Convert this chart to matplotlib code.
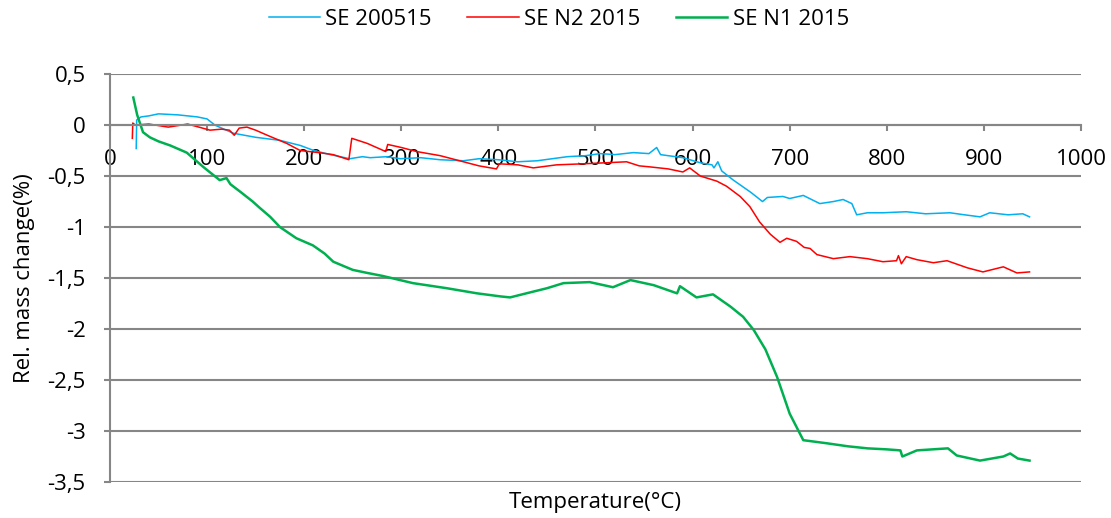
import matplotlib.pyplot as plt
from matplotlib.ticker import FuncFormatter

plt.rcParams['font.family'] = ['Open Sans', 'DejaVu Sans']

# SE 200515 (blue)
t_blue = [27, 27.5, 32, 40, 50, 70, 90, 100, 108, 115, 127, 150, 175, 196, 210, 227, 247,
          260, 268, 285, 299, 320, 340, 364, 380, 400, 420, 440, 471, 490, 505, 520, 539,
          555, 563, 567, 590, 608, 620, 622, 626, 630, 642, 660, 672, 677, 693, 700, 714,
          731, 745, 755, 764, 769, 780, 796, 820, 840, 865, 880, 896, 906, 925, 940, 947]
m_blue = [-0.23, 0.05, 0.08, 0.09, 0.11, 0.1, 0.08, 0.06, 0.0, -0.03, -0.08, -0.12, -0.15,
          -0.2, -0.25, -0.29, -0.33, -0.31, -0.32, -0.31, -0.33, -0.32, -0.34, -0.35, -0.33,
          -0.34, -0.36, -0.35, -0.31, -0.3, -0.28, -0.29, -0.27, -0.28, -0.22, -0.29, -0.32,
          -0.37, -0.39, -0.42, -0.36, -0.45, -0.54, -0.66, -0.75, -0.71, -0.70, -0.72, -0.69,
          -0.77, -0.75, -0.73, -0.77, -0.88, -0.86, -0.86, -0.85, -0.87, -0.86, -0.88, -0.90,
          -0.86, -0.88, -0.87, -0.90]

# SE N2 2015 (red)
t_red = [23, 23.5, 26, 40, 60, 80, 103, 115, 123, 128, 133, 141, 150, 162, 182, 196, 215,
         230, 246, 249, 265, 284, 286, 300, 316, 340, 364, 380, 398, 401, 420, 436, 460, 487,
         510, 532, 545, 556, 575, 590, 597, 608, 625, 635, 649, 659, 669, 680, 690, 697, 707,
         715, 721, 728, 745, 762, 780, 796, 810, 812, 815, 820, 831, 848, 862, 883, 899, 920,
         934, 947]
m_red = [-0.13, 0.02, 0.0, 0.01, -0.02, 0.01, -0.05, -0.04, -0.05, -0.1, -0.03, -0.02, -0.05,
         -0.1, -0.18, -0.25, -0.27, -0.29, -0.34, -0.13, -0.18, -0.26, -0.19, -0.22, -0.26,
         -0.3, -0.36, -0.4, -0.43, -0.38, -0.39, -0.42, -0.39, -0.38, -0.37, -0.36, -0.40,
         -0.41, -0.43, -0.46, -0.42, -0.50, -0.55, -0.6, -0.7, -0.8, -0.95, -1.07, -1.15,
         -1.11, -1.14, -1.2, -1.21, -1.27, -1.31, -1.29, -1.31, -1.34, -1.33, -1.28, -1.36,
         -1.29, -1.32, -1.35, -1.33, -1.40, -1.44, -1.39, -1.45, -1.44]

# SE N1 2015 (green)
t_green = [24, 28, 34, 41, 50, 62, 79, 96, 113, 120, 124, 135, 147, 154, 165, 175, 192, 209,
           221, 230, 250, 265, 281, 312, 347, 378, 402, 412, 433, 450, 467, 494, 518, 536,
           560, 584, 587, 604, 621, 639, 652, 663, 675, 687, 700, 714, 738, 760, 780, 800,
           814, 816, 831, 863, 872, 896, 920, 927, 935, 947]
m_green = [0.27, 0.1, -0.07, -0.12, -0.16, -0.2, -0.27, -0.41, -0.54, -0.52, -0.58, -0.66,
           -0.75, -0.81, -0.9, -1.0, -1.11, -1.18, -1.26, -1.34, -1.42, -1.45, -1.48, -1.55,
           -1.6, -1.65, -1.68, -1.69, -1.64, -1.6, -1.55, -1.54, -1.59, -1.52, -1.57, -1.65,
           -1.58, -1.69, -1.66, -1.78, -1.88, -2.01, -2.2, -2.47, -2.83, -3.09, -3.12, -3.15,
           -3.17, -3.18, -3.19, -3.25, -3.19, -3.17, -3.24, -3.29, -3.25, -3.22, -3.27, -3.29]

fig = plt.figure(figsize=(11.11, 5.18), dpi=100)
ax = fig.add_axes([0.099, 0.0695, 0.874, 0.7875])

grid_c = '#868686'
fs = 16
ax.plot(t_blue, m_blue, color='#00B0F0', lw=1.1, label='SE 200515')
ax.plot(t_red, m_red, color='#FF0000', lw=1.1, label='SE N2 2015')
ax.plot(t_green, m_green, color='#00B050', lw=1.8, label='SE N1 2015')

ax.set_xlim(0, 1000)
ax.set_ylim(-3.5, 0.5)
ax.set_xticks(range(0, 1001, 100))
ax.set_yticks([0.5, 0, -0.5, -1, -1.5, -2, -2.5, -3, -3.5])
ax.yaxis.set_major_formatter(FuncFormatter(lambda v, p: f'{v:g}'.replace('.', ',')))
ax.grid(axis='y', color=grid_c, lw=1.5)
ax.set_axisbelow(True)

for s in ['top', 'right']:
    ax.spines[s].set_visible(False)
ax.spines['bottom'].set_position(('data', 0))
ax.spines['bottom'].set_color(grid_c)
ax.spines['bottom'].set_linewidth(1.5)
ax.spines['left'].set_color(grid_c)
ax.spines['left'].set_linewidth(1.5)
ax.tick_params(axis='both', colors=grid_c, labelcolor='black', labelsize=fs, length=4.5, width=1.5)
ax.tick_params(axis='x', pad=13)
ax.tick_params(axis='y', pad=13)

fig.text(0.0225, 0.463, 'Rel. mass change(%)', rotation=90, ha='center', va='center', fontsize=fs)
fig.text(0.536, 0.029, 'Temperature(°C)', ha='center', va='center', fontsize=fs)

fig.legend(loc='center', bbox_to_anchor=(0.503, 0.963), ncol=3, frameon=False,
           fontsize=fs, handlelength=2.3, columnspacing=1.6, handletextpad=0.25)

fig.savefig('out.png', dpi=100)
